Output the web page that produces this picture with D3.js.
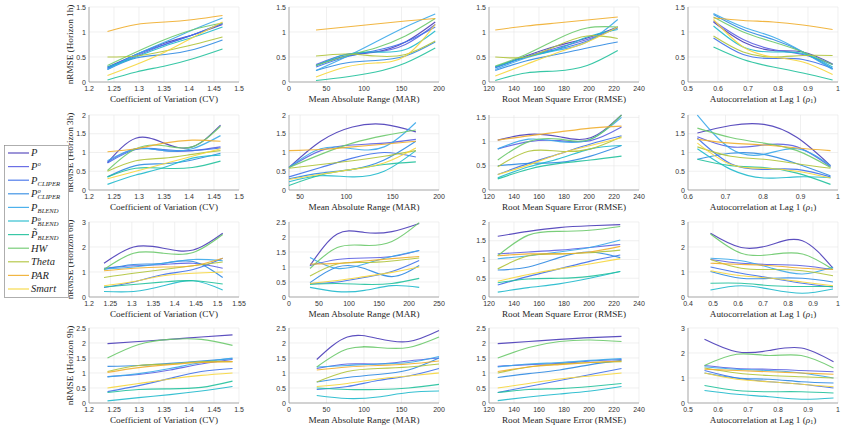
<!DOCTYPE html>
<html>
<head>
<meta charset="utf-8">
<script src="https://cdn.jsdelivr.net/npm/d3@7"></script>
<style>
  body { margin: 0; background: #fff; }
  svg text { fill: #262626; }
  .tick-label { font-family: "Liberation Sans", Arial, sans-serif; font-size: 7px; fill: #333; }
  .ax-title { font-family: "Liberation Serif", "Times New Roman", serif; font-size: 9.2px; }
  .leg { font-family: "Liberation Serif", "Times New Roman", serif; font-style: italic; font-size: 10.5px; }
</style>
</head>
<body>
<svg id="chart" width="845" height="428"></svg>
<script>
// legend / series
const methodLabels = [
  { b: 'P' }, { b: 'P', sup: 'o' }, { b: 'P', sub: 'CLIPER' }, { b: 'P', sup: 'o', sub: 'CLIPER' },
  { b: 'P', sub: 'BLEND' }, { b: 'P', sup: 'o', sub: 'BLEND' }, { b: 'P\u0303', sub: 'BLEND' },
  { b: 'HW' }, { b: 'Theta' }, { b: 'PAR' }, { b: 'Smart' }
]
const colors = ['#4a3cb8', '#5b5fe2', '#3f70ea', '#2f8ae2', '#3aa8ea', '#1fb9cc',
  '#22c19c', '#6bc96b', '#afc33a', '#f0ae2e', '#f6d63c']

const horizons = ['1h', '3h', '6h', '9h']
const featureTitles = ['Coefficient of Variation (CV)', 'Mean Absolute Range (MAR)',
  'Root Mean Square Error (RMSE)', 'Autocorrelation at Lag 1 (']

// axis domains and ticks [row][col]
const xDomains = [
  [[1.2, 1.5], [0, 200], [120, 240], [0.5, 1]],
  [[1.2, 1.5], [38, 200], [120, 240], [0.6, 1]],
  [[1.2, 1.55], [0, 250], [120, 240], [0.4, 1]],
  [[1.2, 1.5], [0, 200], [120, 240], [0.5, 1]]
]
const xTicks = [
  [[1.2, 1.25, 1.3, 1.35, 1.4, 1.45, 1.5], [0, 50, 100, 150, 200], [120, 140, 160, 180, 200, 220, 240], [0.5, 0.6, 0.7, 0.8, 0.9, 1]],
  [[1.2, 1.25, 1.3, 1.35, 1.4, 1.45, 1.5], [50, 100, 150, 200], [120, 140, 160, 180, 200, 220, 240], [0.6, 0.7, 0.8, 0.9, 1]],
  [[1.2, 1.25, 1.3, 1.35, 1.4, 1.45, 1.5, 1.55], [0, 50, 100, 150, 200, 250], [120, 140, 160, 180, 200, 220, 240], [0.4, 0.5, 0.6, 0.7, 0.8, 0.9, 1]],
  [[1.2, 1.25, 1.3, 1.35, 1.4, 1.45, 1.5], [0, 50, 100, 150, 200], [120, 140, 160, 180, 200, 220, 240], [0.5, 0.6, 0.7, 0.8, 0.9, 1]]
]
const yDomains = [
  [[0, 1.5], [0, 1.5], [0, 1.5], [0, 1.5]],
  [[0, 2], [0, 2], [0, 1.55], [0, 2]],
  [[0, 3], [0, 2.5], [0, 2], [0, 3]],
  [[0, 2.5], [0, 2.5], [0, 2.5], [0, 3]]
]
const yTicks = [
  [[0, 0.5, 1, 1.5], [0, 0.5, 1, 1.5], [0, 0.5, 1, 1.5], [0, 0.5, 1, 1.5]],
  [[0, 0.5, 1, 1.5, 2], [0, 0.5, 1, 1.5, 2], [0, 0.5, 1, 1.5], [0, 0.5, 1, 1.5, 2]],
  [[0, 1, 2, 3], [0, 0.5, 1, 1.5, 2, 2.5], [0, 0.5, 1, 1.5, 2], [0, 1, 2, 3]],
  [[0, 0.5, 1, 1.5, 2, 2.5], [0, 0.5, 1, 1.5, 2, 2.5], [0, 0.5, 1, 1.5, 2, 2.5], [0, 1, 2, 3]]
]

// sample positions along x for each panel
const cv1hX = [1.237, 1.2945, 1.352, 1.4095, 1.467]
const mar1hX = [36, 75.75, 115.5, 155.25, 195]
const rmse1hX = [125, 149.5, 174, 198.5, 223]
const rho1hX = [0.585, 0.684, 0.784, 0.883, 0.982]
const cv3hX = [1.237, 1.2935, 1.35, 1.4065, 1.463]
const mar3hX = [38, 72.25, 106.5, 140.75, 175]
const rmse3hX = [127, 151.75, 176.5, 201.25, 226]
const rho3hX = [0.625, 0.714, 0.8025, 0.891, 0.98]
const cv6hX = [1.235, 1.304, 1.3735, 1.443, 1.512]
const mar6hX = [35, 80.5, 126, 171.5, 217]
const rmse6hX = [127, 151.5, 176, 200.5, 225]
const rho6hX = [0.49, 0.6125, 0.735, 0.8575, 0.98]
const cv9hX = [1.237, 1.2995, 1.362, 1.4245, 1.487]
const mar9hX = [37, 77.75, 118.5, 159.25, 200]
const rmse9hX = [127, 151.75, 176.5, 201.25, 226]
const rho9hX = [0.555, 0.6625, 0.77, 0.8775, 0.985]

// nRMSE values, one row per method (order of methodLabels)
const cv1h = [
  [0.30, 0.55, 0.78, 0.95, 1.15], [0.28, 0.52, 0.75, 0.95, 1.18], [0.27, 0.55, 0.75, 0.95, 1.17],
  [0.25, 0.48, 0.55, 0.65, 0.84], [0.25, 0.55, 0.80, 1.05, 1.28], [0.30, 0.50, 0.72, 0.90, 1.10],
  [0.04, 0.20, 0.32, 0.47, 0.66], [0.33, 0.60, 0.85, 1.05, 1.18], [0.50, 0.52, 0.62, 0.75, 0.90],
  [1.01, 1.15, 1.20, 1.25, 1.33], [0.13, 0.35, 0.60, 0.90, 1.20]
]
const mar1h = [
  [0.33, 0.52, 0.60, 0.80, 1.20], [0.35, 0.55, 0.60, 0.75, 1.15], [0.30, 0.50, 0.63, 0.80, 1.10],
  [0.23, 0.38, 0.43, 0.52, 0.80], [0.23, 0.50, 0.80, 1.10, 1.36], [0.33, 0.55, 0.60, 0.65, 1.02],
  [0.03, 0.10, 0.20, 0.38, 0.68], [0.33, 0.52, 0.68, 0.92, 1.27], [0.52, 0.56, 0.52, 0.55, 0.82],
  [1.04, 1.10, 1.16, 1.22, 1.27], [0.10, 0.30, 0.38, 0.52, 1.15]
]
const rmse1h = [
  [0.30, 0.52, 0.72, 0.88, 1.10], [0.30, 0.50, 0.68, 0.85, 1.08], [0.28, 0.50, 0.65, 0.82, 1.10],
  [0.23, 0.42, 0.55, 0.68, 0.80], [0.25, 0.48, 0.63, 0.80, 1.25], [0.30, 0.50, 0.65, 0.90, 1.05],
  [0.03, 0.18, 0.22, 0.33, 0.63], [0.32, 0.55, 0.85, 1.08, 1.10], [0.50, 0.50, 0.72, 0.92, 0.87],
  [1.04, 1.12, 1.18, 1.24, 1.30], [0.12, 0.35, 0.58, 0.80, 1.10]
]
const rho1h = [
  [1.20, 0.80, 0.63, 0.60, 0.36], [1.22, 0.85, 0.65, 0.55, 0.35], [0.88, 0.55, 0.47, 0.45, 0.27],
  [1.35, 1.05, 0.85, 0.60, 0.27], [1.37, 1.10, 0.90, 0.60, 0.25], [1.12, 0.70, 0.60, 0.57, 0.30],
  [0.70, 0.45, 0.30, 0.18, 0.04], [1.30, 1.00, 0.80, 0.60, 0.35], [0.92, 0.60, 0.50, 0.53, 0.53],
  [1.28, 1.23, 1.20, 1.14, 1.05], [1.25, 0.70, 0.50, 0.40, 0.15]
]
const cv3h = [
  [0.73, 1.38, 1.25, 1.15, 1.73], [0.75, 1.10, 1.05, 1.05, 1.15], [0.72, 1.08, 1.08, 1.05, 1.12],
  [0.35, 0.65, 0.70, 0.80, 0.98], [0.78, 1.10, 1.05, 1.10, 1.45], [0.15, 0.40, 0.60, 0.85, 0.93],
  [0.35, 0.58, 0.58, 0.60, 0.77], [0.52, 1.10, 1.18, 1.15, 1.70], [0.50, 0.78, 0.85, 0.95, 1.05],
  [1.02, 1.10, 1.25, 1.33, 1.30], [0.30, 0.50, 0.70, 0.90, 1.10]
]
const mar3h = [
  [0.60, 1.30, 1.68, 1.75, 1.55], [0.60, 1.05, 1.20, 1.25, 1.35], [0.35, 0.60, 0.85, 1.00, 0.88],
  [0.30, 0.45, 0.55, 0.80, 1.30], [0.60, 1.10, 1.10, 1.15, 1.80], [0.22, 0.38, 0.35, 0.50, 1.05],
  [0.12, 0.40, 0.55, 0.68, 0.75], [0.60, 0.95, 1.25, 1.45, 1.60], [0.58, 0.68, 0.78, 0.90, 1.05],
  [1.05, 1.08, 1.15, 1.22, 1.30], [0.28, 0.42, 0.55, 0.72, 1.12]
]
const rmse3h = [
  [1.03, 1.15, 1.10, 1.08, 1.55], [0.85, 1.00, 1.02, 1.02, 1.30], [0.32, 0.55, 0.75, 0.95, 1.12],
  [0.50, 0.55, 0.57, 0.70, 0.92], [0.85, 1.05, 1.00, 1.05, 1.50], [0.25, 0.48, 0.65, 0.85, 0.92],
  [0.23, 0.43, 0.55, 0.62, 0.70], [0.62, 1.00, 1.05, 1.05, 1.55], [0.48, 0.80, 0.80, 0.85, 1.10],
  [1.03, 1.12, 1.20, 1.28, 1.32], [0.32, 0.52, 0.75, 0.92, 1.08]
]
const rho3h = [
  [1.52, 1.72, 1.75, 1.40, 0.65], [1.42, 1.15, 1.20, 1.15, 0.62], [1.38, 0.70, 0.55, 0.55, 0.35],
  [0.82, 0.98, 0.95, 0.70, 0.38], [2.00, 1.10, 0.95, 1.10, 0.65], [1.10, 0.55, 0.32, 0.35, 0.33],
  [0.82, 0.65, 0.60, 0.45, 0.15], [1.65, 1.40, 1.25, 1.05, 0.60], [1.15, 0.90, 0.82, 0.70, 0.58],
  [1.35, 1.25, 1.20, 1.12, 1.05], [1.25, 0.68, 0.58, 0.50, 0.32]
]
const cv6h = [
  [1.35, 2.00, 1.95, 1.88, 2.55], [1.15, 1.25, 1.30, 1.35, 1.15], [0.38, 0.60, 0.90, 1.10, 1.55],
  [1.10, 1.30, 1.35, 1.42, 0.78], [1.12, 1.20, 1.35, 1.50, 1.45], [0.22, 0.22, 0.45, 0.65, 0.28],
  [0.40, 0.50, 0.60, 0.65, 0.52], [1.10, 1.75, 1.75, 1.78, 2.50], [0.78, 0.95, 1.10, 1.25, 1.40],
  [1.05, 1.15, 1.20, 1.25, 1.55], [0.45, 0.62, 0.85, 0.95, 1.00]
]
const mar6h = [
  [1.05, 2.10, 2.15, 2.18, 2.45], [1.05, 1.25, 1.30, 1.35, 1.55], [0.45, 0.50, 0.65, 0.85, 1.22],
  [0.48, 1.00, 0.95, 0.68, 1.05], [1.32, 0.95, 1.10, 1.35, 1.55], [0.32, 0.18, 0.22, 0.38, 0.32],
  [0.42, 0.45, 0.42, 0.45, 0.62], [0.95, 1.65, 1.72, 1.85, 2.48], [0.70, 1.10, 1.15, 1.20, 1.30],
  [1.10, 1.12, 1.20, 1.28, 1.35], [0.45, 0.55, 0.68, 0.82, 1.00]
]
const rmse6h = [
  [1.62, 1.75, 1.85, 1.90, 1.93], [1.15, 1.20, 1.25, 1.32, 1.40], [0.32, 0.55, 0.75, 0.95, 1.12],
  [0.72, 0.80, 1.05, 1.20, 1.05], [1.02, 1.10, 1.20, 1.32, 1.52], [0.13, 0.25, 0.35, 0.50, 0.68],
  [0.38, 0.48, 0.50, 0.55, 0.68], [1.10, 1.65, 1.75, 1.78, 1.88], [0.75, 1.10, 1.15, 1.18, 1.25],
  [1.10, 1.15, 1.15, 1.20, 1.35], [0.42, 0.60, 0.75, 0.88, 1.02]
]
const rho6h = [
  [2.55, 1.98, 2.10, 2.25, 1.15], [1.50, 1.35, 1.30, 1.25, 1.10], [1.20, 0.95, 0.75, 0.55, 0.40],
  [1.02, 0.75, 0.75, 0.75, 0.60], [1.55, 1.45, 1.15, 0.92, 1.20], [0.28, 0.45, 0.30, 0.15, 0.32],
  [0.55, 0.55, 0.45, 0.42, 0.42], [2.52, 1.75, 1.70, 1.72, 1.10], [1.50, 1.15, 1.10, 1.05, 0.85],
  [1.35, 1.30, 1.25, 1.15, 1.10], [1.05, 0.85, 0.75, 0.60, 0.45]
]
const cv9h = [
  [1.98, 2.05, 2.12, 2.20, 2.27], [0.88, 0.95, 1.10, 1.30, 1.45], [0.38, 0.58, 0.82, 1.05, 1.15],
  [1.22, 1.25, 1.32, 1.40, 1.48], [0.87, 0.98, 1.15, 1.35, 1.50], [0.07, 0.18, 0.28, 0.40, 0.55],
  [0.35, 0.45, 0.47, 0.52, 0.73], [1.50, 1.95, 2.12, 2.12, 1.92], [1.05, 1.25, 1.30, 1.38, 1.38],
  [1.02, 1.18, 1.28, 1.35, 1.38], [0.50, 0.65, 0.80, 0.92, 1.00]
]
const mar9h = [
  [1.45, 2.20, 2.15, 2.05, 2.42], [1.15, 1.30, 1.30, 1.40, 1.50], [0.45, 0.55, 0.75, 0.90, 1.15],
  [0.70, 0.85, 0.95, 1.10, 1.50], [1.20, 1.25, 1.30, 1.35, 1.55], [0.25, 0.15, 0.20, 0.35, 0.40],
  [0.50, 0.45, 0.45, 0.50, 0.62], [1.20, 1.80, 1.85, 1.85, 2.20], [0.70, 1.05, 1.15, 1.20, 1.30],
  [1.10, 1.20, 1.25, 1.30, 1.40], [0.55, 0.65, 0.80, 0.90, 1.00]
]
const rmse9h = [
  [1.98, 2.05, 2.12, 2.18, 2.22], [1.22, 1.28, 1.32, 1.40, 1.45], [0.35, 0.55, 0.75, 0.95, 1.15],
  [0.85, 0.98, 1.10, 1.28, 1.42], [1.20, 1.30, 1.35, 1.42, 1.48], [0.08, 0.20, 0.30, 0.40, 0.55],
  [0.35, 0.45, 0.48, 0.55, 0.65], [1.50, 1.85, 2.05, 2.10, 2.05], [1.00, 1.20, 1.30, 1.35, 1.38],
  [1.05, 1.20, 1.28, 1.35, 1.40], [0.50, 0.65, 0.80, 0.90, 1.00]
]
const rho9h = [
  [2.55, 2.05, 2.10, 2.20, 1.65], [1.50, 1.38, 1.35, 1.30, 1.25], [1.30, 1.00, 0.85, 0.75, 0.60],
  [1.20, 1.00, 0.95, 0.85, 0.80], [1.45, 1.35, 1.30, 1.20, 1.00], [0.50, 0.35, 0.25, 0.15, 0.20],
  [0.70, 0.50, 0.45, 0.45, 0.40], [1.50, 1.95, 1.90, 1.90, 1.40], [1.40, 1.20, 1.10, 1.05, 1.00],
  [1.35, 1.30, 1.25, 1.20, 1.15], [1.20, 0.95, 0.85, 0.75, 0.65]
]

const panelX = [
  [cv1hX, mar1hX, rmse1hX, rho1hX], [cv3hX, mar3hX, rmse3hX, rho3hX],
  [cv6hX, mar6hX, rmse6hX, rho6hX], [cv9hX, mar9hX, rmse9hX, rho9hX]
]
const panelY = [
  [cv1h, mar1h, rmse1h, rho1h], [cv3h, mar3h, rmse3h, rho3h],
  [cv6h, mar6h, rmse6h, rho6h], [cv9h, mar9h, rmse9h, rho9h]
]

// layout
const colLeft = [89, 289, 489, 688]
const rowTop = [7, 115, 222, 328]
const pw = 150, ph = 75

const svg = d3.select('#chart')
const fmt = v => String(+v.toFixed(3))

const line = d3.line().curve(d3.curveNatural)

rowTop.forEach((top, r) => {
  colLeft.forEach((left, c) => {
    const x = d3.scaleLinear().domain(xDomains[r][c]).range([0, pw])
    const y = d3.scaleLinear().domain(yDomains[r][c]).range([ph, 0])
    const g = svg.append('g').attr('transform', `translate(${left},${top})`)

    // grid
    g.selectAll('.gx').data(xTicks[r][c]).enter().append('line')
      .attr('x1', d => x(d)).attr('x2', d => x(d)).attr('y1', 0).attr('y2', ph)
      .attr('stroke', '#e6e6e6').attr('stroke-width', 0.6)
    g.selectAll('.gy').data(yTicks[r][c]).enter().append('line')
      .attr('x1', 0).attr('x2', pw).attr('y1', d => y(d)).attr('y2', d => y(d))
      .attr('stroke', '#e6e6e6').attr('stroke-width', 0.6)

    // axis lines
    g.append('line').attr('x1', 0).attr('x2', pw).attr('y1', ph).attr('y2', ph)
      .attr('stroke', '#8c8c8c').attr('stroke-width', 0.7)
    g.append('line').attr('x1', 0).attr('x2', 0).attr('y1', 0).attr('y2', ph)
      .attr('stroke', '#8c8c8c').attr('stroke-width', 0.7)

    // tick labels
    g.selectAll('.tx').data(xTicks[r][c]).enter().append('text')
      .attr('class', 'tick-label').attr('x', d => x(d)).attr('y', ph + 9)
      .attr('text-anchor', 'middle').text(fmt)
    g.selectAll('.ty').data(yTicks[r][c]).enter().append('text')
      .attr('class', 'tick-label').attr('x', -3).attr('y', d => y(d) + 2.5)
      .attr('text-anchor', 'end').text(fmt)

    // series
    const xs = panelX[r][c]
    g.selectAll('.series').data(panelY[r][c]).enter().append('path')
      .attr('fill', 'none')
      .attr('stroke', (d, i) => colors[i])
      .attr('stroke-width', 1.15)
      .attr('stroke-opacity', 0.9)
      .attr('d', vals => line(vals.map((v, k) => [x(xs[k]), y(v)])))

    // x title
    const t = g.append('text').attr('class', 'ax-title')
      .attr('x', pw / 2).attr('y', ph + 19.5).attr('text-anchor', 'middle')
      .text(featureTitles[c])
    if (c === 3) {
      t.append('tspan').style('font-style', 'italic').text('\u03c1')
      t.append('tspan').attr('font-size', '6px').attr('dy', 1.5).text('1')
      t.append('tspan').attr('dy', -1.5).text(')')
    }

    if (c === 0) {
      g.append('text').attr('class', 'ax-title')
        .attr('transform', `translate(-16.5,${ph / 2}) rotate(-90)`)
        .attr('text-anchor', 'middle')
        .text(`nRMSE (Horizon ${horizons[r]})`)
    }
  })
})

// legend
const leg = svg.append('g')
leg.append('rect').attr('x', 4.5).attr('y', 145.5).attr('width', 64).attr('height', 152)
  .attr('fill', '#fff').attr('stroke', '#8c8c8c').attr('stroke-width', 0.7)

methodLabels.forEach((m, i) => {
  const yy = 153 + i * 13.6
  leg.append('line').attr('x1', 8).attr('x2', 29).attr('y1', yy).attr('y2', yy)
    .attr('stroke', colors[i]).attr('stroke-width', 1.2).attr('stroke-opacity', 0.9)
  const txt = leg.append('text').attr('class', 'leg').attr('x', 31).attr('y', yy + 3.4)
  const base = txt.append('tspan').text(m.b)
  const w = base.node().getComputedTextLength()
  if (m.sup) {
    txt.append('tspan').attr('x', 31 + w + 0.3).attr('y', yy - 0.4)
      .attr('font-size', '6px').text(m.sup)
  }
  if (m.sub) {
    txt.append('tspan').attr('x', 31 + w + 0.2).attr('y', yy + 5.4)
      .attr('font-size', '6.6px').text(m.sub)
  }
})
</script>
</body>
</html>
